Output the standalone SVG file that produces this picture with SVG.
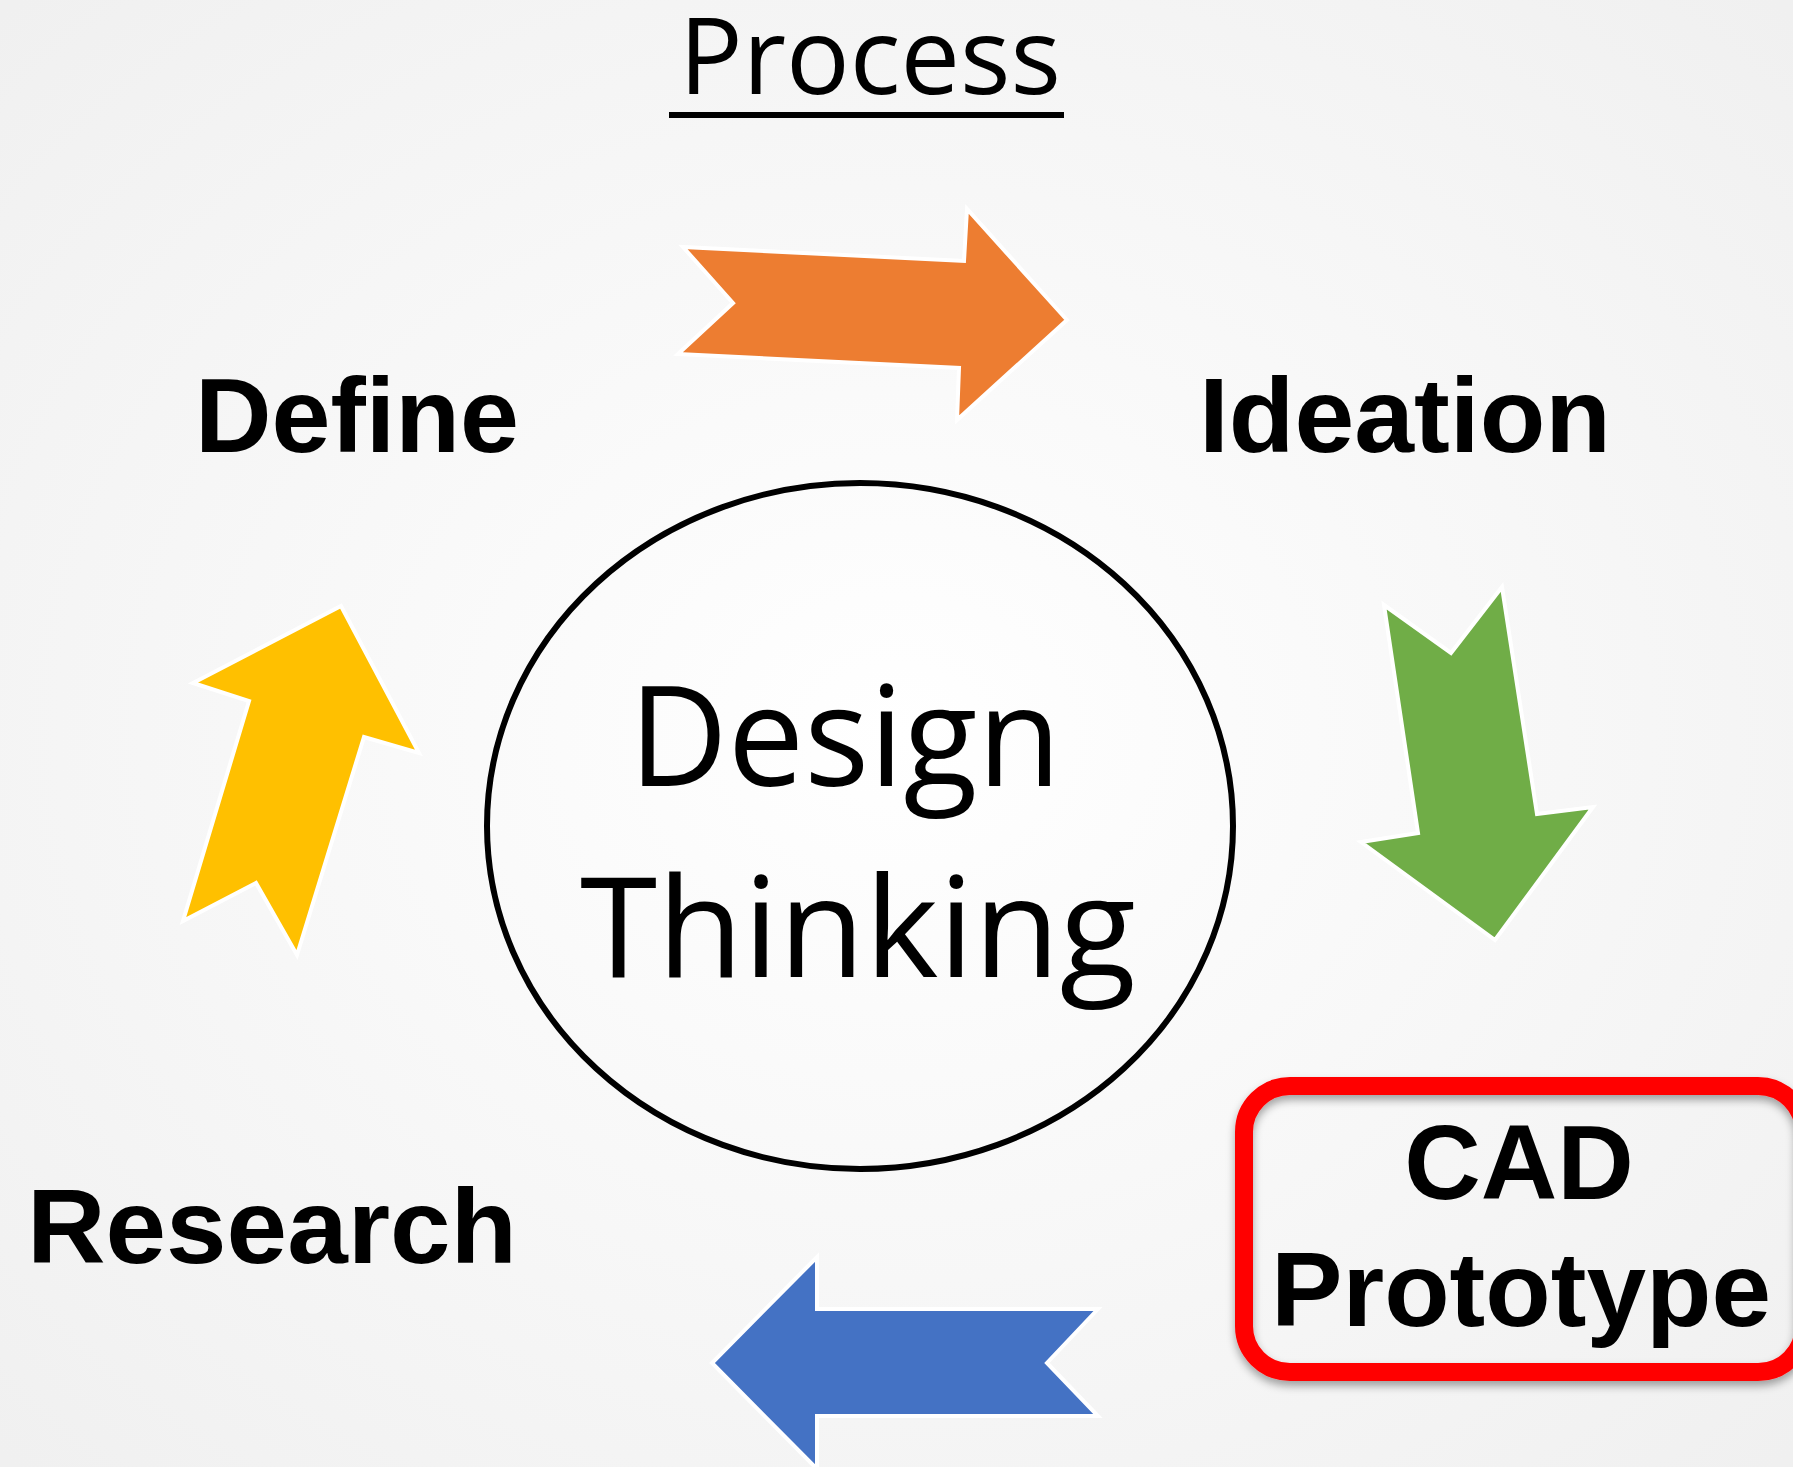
<svg xmlns="http://www.w3.org/2000/svg" width="1793" height="1467" viewBox="0 0 1793 1467">
  <defs>
    <radialGradient id="bg" cx="50%" cy="50%" r="70%">
      <stop offset="0" stop-color="#ffffff"/>
      <stop offset="1" stop-color="#f0f0f0"/>
    </radialGradient>
    <filter id="shadow" x="-10%" y="-10%" width="130%" height="130%">
      <feDropShadow dx="0" dy="5" stdDeviation="4" flood-color="#000000" flood-opacity="0.35"/>
    </filter>
    <style>
      .arrow { stroke: #ffffff; stroke-width: 4; stroke-linejoin: miter; }
      .label { font-family: "Liberation Sans", Arial, sans-serif; font-weight: bold; font-size: 106px; fill: #000000; text-anchor: middle; }
      .light { font-family: "Open Sans", "Noto Sans", sans-serif; fill: #000000; text-anchor: middle; }
    </style>
  </defs>
  <rect x="0" y="0" width="1793" height="1467" fill="url(#bg)"/>

  <g id="title">
    <text class="light" x="870" y="94" font-size="106">Process</text>
    <rect x="669" y="112" width="395" height="6" fill="#000000"/>
  </g>

  <g id="center">
    <ellipse cx="860" cy="826" rx="373" ry="343" fill="none" stroke="#000000" stroke-width="6"/>
    <text class="light" x="845" y="786" font-size="140" textLength="432" lengthAdjust="spacingAndGlyphs">Design</text>
    <text class="light" x="858" y="977" font-size="140" textLength="556" lengthAdjust="spacingAndGlyphs">Thinking</text>
  </g>

  <g id="connectors">
    <polygon class="arrow" fill="#ED7D31" points="683,247 964,261 967,209 1067,320 957,420 959,368 678,354 733,303"/>
    <polygon class="arrow" fill="#70AD47" points="1384,605 1451,653 1502,587 1537,814 1593,807 1495,940 1361,842 1418,833"/>
    <polygon class="arrow" fill="#4472C4" points="1098,1309 1047,1363 1098,1416 817,1416 817,1469 712,1363 817,1257 817,1309"/>
    <polygon class="arrow" fill="#FFC000" points="297,955 256,883 183,921 249,701 193,683 341,606 419,753 364,737"/>
  </g>

  <g id="define">
    <text class="label" x="357" y="452">Define</text>
  </g>
  <g id="ideation">
    <text class="label" x="1405" y="452" textLength="412" lengthAdjust="spacingAndGlyphs">Ideation</text>
  </g>
  <g id="research">
    <text class="label" x="272" y="1263" textLength="490" lengthAdjust="spacingAndGlyphs">Research</text>
  </g>
  <g id="cad-prototype">
    <rect x="1244" y="1086" width="560" height="286" rx="46" ry="46" fill="none" stroke="#ff0000" stroke-width="18" filter="url(#shadow)"/>
    <text class="label" x="1519" y="1199">CAD</text>
    <text class="label" x="1521" y="1326" textLength="500" lengthAdjust="spacingAndGlyphs">Prototype</text>
  </g>
</svg>
